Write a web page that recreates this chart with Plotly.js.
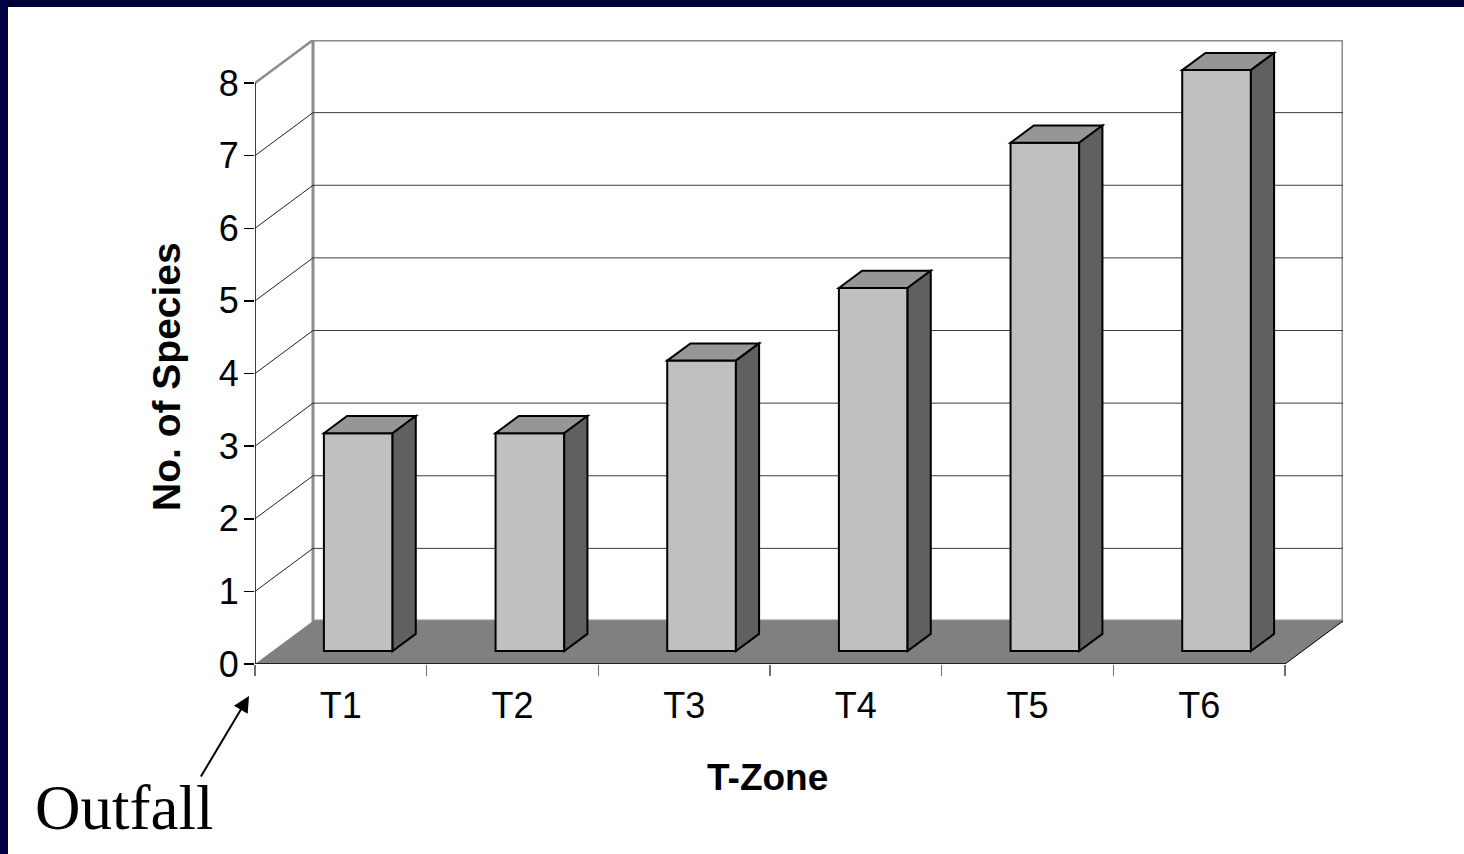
<!DOCTYPE html>
<html>
<head>
<meta charset="utf-8">
<script src="https://cdn.plot.ly/plotly-3.0.1.min.js"></script>
<style>
  html, body { margin: 0; padding: 0; background: #ffffff; }
  #chart { width: 1464px; height: 854px; }
</style>
</head>
<body>
<div id="chart"></div>
<script>
// Number of species found in each transect zone, moving away from the outfall
const zones = ['T1', 'T2', 'T3', 'T4', 'T5', 'T6'];
const species = [3, 3, 4, 5, 7, 8];
const yTicks = [0, 1, 2, 3, 4, 5, 6, 7, 8];

// Page geometry (px) and the oblique depth used for the 3-D look
const W = 1464, H = 854;
const M = { l: 255, r: 121, t: 40, b: 190 };
const plotW = W - M.l - M.r, plotH = H - M.t - M.b;
const DEPTH_PX_X = 58, DEPTH_PX_Y = 43;
const yMax = yTicks[yTicks.length - 1];
const nCat = zones.length;
// depth offsets expressed in axis units
const DX = DEPTH_PX_X * nCat / (plotW - DEPTH_PX_X);
const DY = DEPTH_PX_Y * yMax / (plotH - DEPTH_PX_Y);
const xLo = -0.5, xHi = nCat - 0.5;
// bars sit between these fractions of the floor depth
const D0 = 0.30, D1 = 0.70;
const BAR_W = 0.4;

const px2paperX = px => (px - M.l) / plotW;
const px2paperY = py => (H - M.b - py) / plotH;

const idx = zones.map((_, i) => i);
const shapes = [];
const line0 = { width: 0 };
const NAVY = '#000038';

// navy frame along the top and left of the page
shapes.push({ type: 'rect', xref: 'paper', yref: 'paper', layer: 'below',
  x0: px2paperX(-2), x1: px2paperX(W + 2), y0: px2paperY(7), y1: px2paperY(-2),
  fillcolor: NAVY, line: line0 });
shapes.push({ type: 'rect', xref: 'paper', yref: 'paper', layer: 'below',
  x0: px2paperX(-2), x1: px2paperX(8), y0: px2paperY(H + 2), y1: px2paperY(-2),
  fillcolor: '#000044', line: line0 });

// back wall
shapes.push({ type: 'rect', xref: 'x', yref: 'y', layer: 'below',
  x0: xLo + DX, x1: xHi + DX, y0: DY, y1: yMax + DY,
  fillcolor: '#ffffff', line: { color: '#8c8c8c', width: 3 } });

// gridlines: across the back wall and slanting along the side wall
yTicks.filter(v => v > 0).forEach(v => {
  const top = v === yMax;
  if (!top) {
    shapes.push({ type: 'line', xref: 'x', yref: 'y', layer: 'below',
      x0: xLo + DX, x1: xHi + DX, y0: v + DY, y1: v + DY,
      line: { color: '#3c3c3c', width: 1 } });
  }
  shapes.push({ type: 'line', xref: 'x', yref: 'y', layer: 'below',
    x0: xLo, x1: xLo + DX, y0: v, y1: v + DY,
    line: top ? { color: '#8c8c8c', width: 2.5 } : { color: '#222222', width: 1 } });
});

// floor
shapes.push({ type: 'path', xref: 'x', yref: 'y', layer: 'below',
  path: `M${xLo},0 L${xHi},0 L${xHi + DX},${DY} L${xLo + DX},${DY} Z`,
  fillcolor: '#808080', line: line0 });
shapes.push({ type: 'line', xref: 'x', yref: 'y', layer: 'below',
  x0: xHi, x1: xHi + DX, y0: 0, y1: DY, line: { color: '#000000', width: 1 } });

// front axis lines
shapes.push({ type: 'line', xref: 'x', yref: 'y', layer: 'below',
  x0: xLo, x1: xHi, y0: 0, y1: 0, line: { color: '#000000', width: 1.5 } });
shapes.push({ type: 'line', xref: 'x', yref: 'y', layer: 'below',
  x0: xLo, x1: xLo, y0: 0, y1: yMax, line: { color: '#000000', width: 1.5 } });

// tops and right-hand sides of the bars
const b0 = D0 * DY, ddx = (D1 - D0) * DX, ddy = (D1 - D0) * DY;
const barOffset = -BAR_W / 2 + D0 * DX;
idx.forEach((i, k) => {
  const v = species[k] + b0;
  const xl = i + barOffset, xr = xl + BAR_W;
  shapes.push({ type: 'path', xref: 'x', yref: 'y', layer: 'above',
    path: `M${xl},${v} L${xl + ddx},${v + ddy} L${xr + ddx},${v + ddy} L${xr},${v} Z`,
    fillcolor: '#969696', line: { color: '#000000', width: 2 } });
  shapes.push({ type: 'path', xref: 'x', yref: 'y', layer: 'above',
    path: `M${xr},${b0} L${xr},${v} L${xr + ddx},${v + ddy} L${xr + ddx},${b0 + ddy} Z`,
    fillcolor: '#606060', line: { color: '#000000', width: 2 } });
});

const traces = [{
  type: 'bar',
  x: idx,
  y: species,
  base: b0,
  width: BAR_W,
  offset: barOffset,
  marker: { color: '#c0c0c0', line: { color: '#000000', width: 2 } },
  hoverinfo: 'skip'
}];

const sans = 'Liberation Sans, Arial, sans-serif';

const layout = {
  width: W, height: H, autosize: false,
  margin: M,
  paper_bgcolor: '#ffffff',
  plot_bgcolor: 'rgba(0,0,0,0)',
  showlegend: false,
  font: { family: sans, color: '#000000' },
  xaxis: {
    range: [xLo, xHi + DX],
    tickmode: 'array', tickvals: idx, ticktext: zones,
    ticks: '', showgrid: false, zeroline: false, showline: false,
    tickfont: { family: sans, size: 36, color: '#000000' },
    ticklabelstandoff: 17,
    minor: { tickmode: 'array', tickvals: idx.map(i => i - 0.5).concat([xHi]),
      ticks: 'outside', ticklen: 11, tickcolor: '#707070', tickwidth: 1.5, showgrid: false },
    fixedrange: true
  },
  yaxis: {
    range: [0, yMax + DY],
    tickmode: 'array', tickvals: yTicks,
    ticks: 'outside', ticklen: 10, tickcolor: '#000000', tickwidth: 1.5,
    ticklabelstandoff: -2,
    showgrid: false, zeroline: false, showline: false,
    tickfont: { family: sans, size: 36, color: '#000000' },
    fixedrange: true
  },
  shapes: shapes,
  annotations: [
    { text: '<b>No. of Species</b>', textangle: -90, showarrow: false,
      xref: 'paper', yref: 'paper', x: px2paperX(166), y: px2paperY(377),
      xanchor: 'center', yanchor: 'middle',
      font: { family: sans, size: 39, color: '#000000' } },
    { text: '<b>T-Zone</b>', showarrow: false,
      xref: 'paper', yref: 'paper', x: px2paperX(767), y: px2paperY(777),
      xanchor: 'center', yanchor: 'middle',
      font: { family: sans, size: 37, color: '#000000' } },
    { text: 'Outfall', showarrow: false,
      xref: 'paper', yref: 'paper', x: px2paperX(124), y: px2paperY(808),
      xanchor: 'center', yanchor: 'middle',
      font: { family: 'Liberation Serif, Times New Roman, serif', size: 63, color: '#000000' } },
    { text: '', showarrow: true,
      xref: 'paper', yref: 'paper', x: px2paperX(249), y: px2paperY(696),
      axref: 'pixel', ayref: 'pixel', ax: -49, ay: 82,
      arrowhead: 2, arrowsize: 1.6, arrowwidth: 2, arrowcolor: '#000000', standoff: 0 }
  ]
};

Plotly.newPlot('chart', traces, layout, { staticPlot: true, displayModeBar: false });
</script>
</body>
</html>
